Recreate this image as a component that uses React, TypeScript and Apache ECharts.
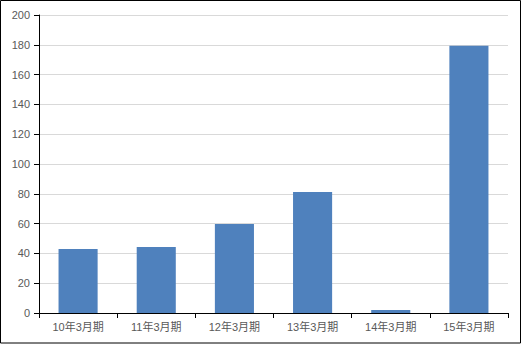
import React, { useEffect, useRef } from "react";
import * as echarts from "echarts";

const categories = ["10年3月期", "11年3月期", "12年3月期", "13年3月期", "14年3月期", "15年3月期"];
const values = [43, 44.3, 59.7, 81.2, 2, 179.4];
const yMin = 0;
const yMax = 200;
const yInterval = 20;

export default function App() {
  const ref = useRef<HTMLDivElement>(null);
  useEffect(() => {
    if (!ref.current) return;
    const chart = echarts.init(ref.current, null, { renderer: "svg" });
    const font = "'Liberation Sans', 'Noto Sans CJK JP', sans-serif";
    chart.setOption({
      animation: false,
      backgroundColor: "#fff",
      grid: { left: 39, top: 15, width: 469, height: 298, containLabel: false },
      graphic: [
        {
          type: "rect",
          shape: { x: 0.5, y: 0.5, width: 520, height: 342.5 },
          style: { fill: "none", stroke: "#000", lineWidth: 1 },
          silent: true,
          z: 100,
        },
      ],
      xAxis: {
        type: "category",
        data: categories,
        axisLine: { show: true, lineStyle: { color: "#000", width: 1 } },
        axisTick: { show: true, length: 5, lineStyle: { color: "#000" } },
        axisLabel: { color: "#595959", fontSize: 11, margin: 8, fontFamily: font },
        splitLine: { show: false },
      },
      yAxis: {
        type: "value",
        min: yMin,
        max: yMax,
        interval: yInterval,
        axisLine: { show: true, lineStyle: { color: "#000", width: 1 } },
        axisTick: { show: true, length: 5, lineStyle: { color: "#000" } },
        axisLabel: { color: "#595959", fontSize: 11, margin: 9, fontFamily: font },
        splitLine: { show: true, lineStyle: { color: "#d9d9d9", width: 1 } },
      },
      series: [
        {
          type: "bar",
          data: values,
          barWidth: "50%",
          itemStyle: { color: "#4F81BD" },
        },
      ],
    });
    return () => chart.dispose();
  }, []);
  return (
    <div
      ref={ref}
      style={{ position: "fixed", left: 0, top: 0, width: 522, height: 345 }}
    />
  );
}
